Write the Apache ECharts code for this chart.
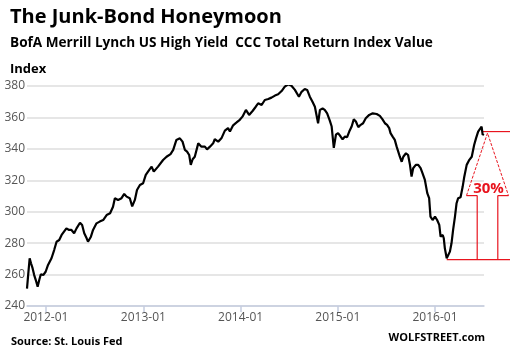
<!DOCTYPE html>
<html>
<head>
<meta charset="utf-8">
<script src="https://cdn.jsdelivr.net/npm/echarts@6/dist/echarts.min.js"></script>
<style>
html, body { margin: 0; padding: 0; background: #fff; }
#main { width: 510px; height: 352px; }
</style>
</head>
<body>
<div id="main"></div>
<script>
// BofA ML US High Yield CCC total return index
var dates = [
    '2011-10-22', '2011-10-26', '2011-11-01', '2011-11-06', '2011-11-11', '2011-11-18', '2011-11-24',
    '2011-12-01', '2011-12-07', '2011-12-13', '2011-12-22', '2011-12-31',
    '2012-01-09', '2012-01-22', '2012-02-01', '2012-02-10', '2012-02-20', '2012-02-29', '2012-03-09',
    '2012-03-18', '2012-03-28', '2012-04-06', '2012-04-16', '2012-04-25', '2012-05-08', '2012-05-16',
    '2012-05-24', '2012-06-02', '2012-06-07', '2012-06-18', '2012-06-26', '2012-07-09', '2012-07-21',
    '2012-08-03', '2012-08-16', '2012-08-29', '2012-09-09', '2012-09-16', '2012-09-28', '2012-10-11',
    '2012-10-21', '2012-10-30', '2012-11-11', '2012-11-20', '2012-11-30', '2012-12-08', '2012-12-19',
    '2012-12-31',
    '2013-01-10', '2013-01-23', '2013-02-01', '2013-02-09', '2013-02-25', '2013-03-16', '2013-03-29',
    '2013-04-13', '2013-04-23', '2013-05-05', '2013-05-18', '2013-05-28', '2013-06-06', '2013-06-14',
    '2013-06-22', '2013-06-28', '2013-07-05', '2013-07-13', '2013-07-26', '2013-08-07', '2013-08-20',
    '2013-08-28', '2013-09-08', '2013-09-20', '2013-09-26', '2013-10-09', '2013-10-21', '2013-11-03',
    '2013-11-15', '2013-11-22', '2013-12-04', '2013-12-17', '2013-12-29',
    '2014-01-08', '2014-01-21', '2014-02-02', '2014-02-15', '2014-02-27', '2014-03-08', '2014-03-21',
    '2014-04-02', '2014-04-15', '2014-04-27', '2014-05-10', '2014-05-22', '2014-06-04', '2014-06-16',
    '2014-06-29', '2014-07-11', '2014-07-24', '2014-07-30', '2014-08-08', '2014-08-18', '2014-08-30',
    '2014-09-08', '2014-09-18', '2014-09-28', '2014-10-07', '2014-10-13', '2014-10-19', '2014-10-26',
    '2014-11-05', '2014-11-13', '2014-11-22', '2014-12-02', '2014-12-09', '2014-12-17', '2014-12-25',
    '2015-01-02', '2015-01-11', '2015-01-19', '2015-01-28', '2015-02-05', '2015-02-13', '2015-02-22',
    '2015-03-02', '2015-03-10', '2015-03-19', '2015-03-28', '2015-04-06', '2015-04-16', '2015-04-29',
    '2015-05-12', '2015-05-27', '2015-06-08', '2015-06-18', '2015-06-27', '2015-07-05', '2015-07-13',
    '2015-07-18', '2015-07-26', '2015-08-03', '2015-08-10', '2015-08-16', '2015-08-22', '2015-08-29',
    '2015-09-04', '2015-09-14', '2015-09-22', '2015-09-29', '2015-10-05', '2015-10-11', '2015-10-21',
    '2015-10-30', '2015-11-08', '2015-11-15', '2015-11-24', '2015-12-03', '2015-12-10', '2015-12-15',
    '2015-12-23',
    '2016-01-01', '2016-01-09', '2016-01-17', '2016-01-22', '2016-01-30', '2016-02-03', '2016-02-07',
    '2016-02-14', '2016-02-20', '2016-02-26', '2016-03-03', '2016-03-09', '2016-03-16', '2016-03-22',
    '2016-03-28', '2016-04-06', '2016-04-14', '2016-04-20', '2016-04-29', '2016-05-09', '2016-05-18',
    '2016-05-27', '2016-06-03', '2016-06-11', '2016-06-18', '2016-06-24', '2016-06-28', '2016-07-02'
]
var values = [
    251, 259, 270.4, 267.2, 264.6, 259.7, 256.5,
    252.3, 256.5, 260.2, 259.7, 261.8,
    266.1, 270.4, 275.6, 280.9, 282, 285.2, 287.3,
    289.4, 288.4, 288.4, 286.3, 289.4, 293, 291.6,
    286.3, 283.1, 280.9, 284.1, 288.4, 292.6, 293.7,
    294.7, 297.9, 299, 303.2, 308.6, 307.5, 308.6,
    311.3, 309.6, 308.6, 303.4, 307.5, 313.8, 317,
    318.1,
    323.4, 326.6, 328.7, 325.5, 328.7, 332.9, 335,
    336.7, 339.3, 345.7, 346.7, 344.6, 339.3, 338.2,
    336.1, 329.8, 333.4, 335, 343.5, 341.4, 341.4,
    339.7, 341.4, 343.5, 346.1, 344.6, 346.7, 351.6,
    353.2, 351, 355, 356.8, 358.5,
    360.5, 364.8, 361.6, 364.1, 366.8, 369, 367.9,
    371.1, 371.7, 372.6, 373.9, 374.7, 376.8, 379.6,
    381.1, 380.2, 377.5, 376.8, 373.2, 376.3, 378.1,
    377.5, 373.2, 370, 366.8, 365.7, 356.3, 364.8,
    365.7, 364.8, 362.6, 358, 354.2, 340.6, 349,
    350, 348, 346.1, 347.8, 347.4, 351, 354.2,
    358.8, 357.4, 353.8, 355.3, 356.3, 359.5, 361.6,
    362.6, 362.2, 361, 358.8, 356.3, 355.3, 353.2,
    350, 347.8, 345.7, 341.4, 338.2, 335, 331.8,
    335, 337.2, 336.1, 329.8, 322.3, 327.7, 329.8,
    329.8, 327.7, 324.5, 320.2, 311.8, 308.6, 296.9,
    294.7,
    296.9, 294.7, 291.6, 284.1, 285.2, 283.1, 276.7,
    270.4, 271.4, 274.6, 279.9, 288.4, 296.9, 305.4,
    308.6, 309.2, 316, 322.3, 329.8, 333, 335,
    342.5, 346.7, 351, 350, 354.2, 348.9, 349.5
]
var yearTicks = ['2012-01-01', '2013-01-01', '2014-01-01', '2015-01-01', '2016-01-01']
var axisStart = '2011-10-22'
var axisEnd = '2016-07-03'
var lowValue = 269.5
var highValue = 351
var gainLabel = '30%'

var red = '#e8141e'
function toTime(s) {
    var p = s.split('-')
    return new Date(+p[0], +p[1] - 1, +p[2]).getTime()
}
var tickTimes = yearTicks.map(toTime)
var points = dates.map(function (d, i) { return [toTime(d), values[i]] })

var chart = echarts.init(document.getElementById('main'))
chart.setOption({
    animation: false,
    title: [{
        text: 'The Junk-Bond Honeymoon',
        left: 5, top: 2,
        textStyle: { fontFamily: 'Open Sans', fontWeight: 'bold', fontSize: 20, color: '#000' }
    }, {
        text: 'BofA Merrill Lynch US High Yield  CCC Total Return Index Value',
        left: 5, top: 31,
        textStyle: { fontFamily: 'Open Sans', fontWeight: 'bold', fontSize: 13.6, color: '#000' }
    }, {
        text: 'Index',
        left: 5, top: 58,
        textStyle: { fontFamily: 'Open Sans', fontWeight: 'bold', fontSize: 13, color: '#000' }
    }, {
        text: 'Source: St. Louis Fed',
        left: 6, top: 331,
        textStyle: { fontFamily: 'Open Sans', fontWeight: 'bold', fontSize: 11, color: '#000' }
    }, {
        text: 'WOLFSTREET.com',
        right: 20, top: 327,
        textStyle: { fontFamily: 'Open Sans', fontWeight: 'bold', fontSize: 11, color: '#000' }
    }],
    grid: { left: 27, right: 26, top: 86, bottom: 46 },
    xAxis: {
        type: 'value',
        min: toTime(axisStart),
        max: toTime(axisEnd),
        axisLine: { lineStyle: { color: '#c5cde0', width: 1.5 } },
        axisTick: { show: true, customValues: tickTimes, length: 6, lineStyle: { color: '#c5cde0', width: 1.5 } },
        axisLabel: {
            customValues: tickTimes,
            color: '#555',
            fontFamily: 'Open Sans',
            fontSize: 12,
            margin: 6,
            formatter: function (v) {
                var d = new Date(v)
                var m = d.getMonth() + 1
                return d.getFullYear() + '-' + (m < 10 ? '0' + m : m)
            }
        },
        splitLine: { show: false }
    },
    yAxis: {
        type: 'value',
        min: 240,
        max: 380,
        interval: 20,
        axisLine: { show: false },
        axisTick: { show: false },
        axisLabel: { color: '#555', fontFamily: 'Open Sans', fontSize: 12, margin: 2 },
        splitLine: { lineStyle: { color: '#dedede', width: 1.5 } }
    },
    series: [{
        type: 'line',
        data: points,
        showSymbol: false,
        lineStyle: { color: '#000', width: 2.2 },
        z: 3
    }]
})

// 30% annotation: lines at the 2016 low and the latest high, and an arrow between
var minIdx = 0
var cutoff = toTime('2015-06-01')
for (var i = 0; i < points.length; i++) {
    if (points[i][0] >= cutoff && (points[minIdx][0] < cutoff || values[i] < values[minIdx])) minIdx = i
}
var pLow = chart.convertToPixel({ gridIndex: 0 }, [points[minIdx][0], lowValue])
var pHigh = chart.convertToPixel({ gridIndex: 0 }, [points[points.length - 1][0], highValue])
var W = 510
var cx = 487.5
var shaftHalf = 10.3
var headHalf = 21
var baseY = pLow[1] - 0.5 * (pLow[1] - pHigh[1])
var tipY = pHigh[1] + 1.5
var lineStyle = { stroke: red, lineWidth: 1.2 }
chart.setOption({
    graphic: [
        { type: 'line', shape: { x1: pLow[0], y1: pLow[1], x2: W, y2: pLow[1] }, style: lineStyle },
        { type: 'line', shape: { x1: pHigh[0] - 1, y1: pHigh[1], x2: W, y2: pHigh[1] }, style: lineStyle },
        { type: 'line', shape: { x1: cx - shaftHalf, y1: pLow[1], x2: cx - shaftHalf, y2: baseY }, style: lineStyle },
        { type: 'line', shape: { x1: cx + shaftHalf, y1: pLow[1], x2: cx + shaftHalf, y2: baseY }, style: lineStyle },
        { type: 'line', shape: { x1: cx - shaftHalf, y1: baseY, x2: cx - headHalf, y2: baseY }, style: lineStyle },
        { type: 'line', shape: { x1: cx + shaftHalf, y1: baseY, x2: cx + headHalf, y2: baseY }, style: lineStyle },
        {
            type: 'polyline',
            shape: { points: [[cx - headHalf, baseY], [cx, tipY], [cx + headHalf, baseY]] },
            style: { stroke: red, lineWidth: 1, lineDash: [3, 1.5], fill: null }
        },
        {
            type: 'text',
            x: cx + 1, y: baseY - 7,
            style: {
                text: gainLabel, fill: red, align: 'center', verticalAlign: 'middle',
                font: 'bold 15px "Open Sans"'
            }
        }
    ]
})
</script>
</body>
</html>
